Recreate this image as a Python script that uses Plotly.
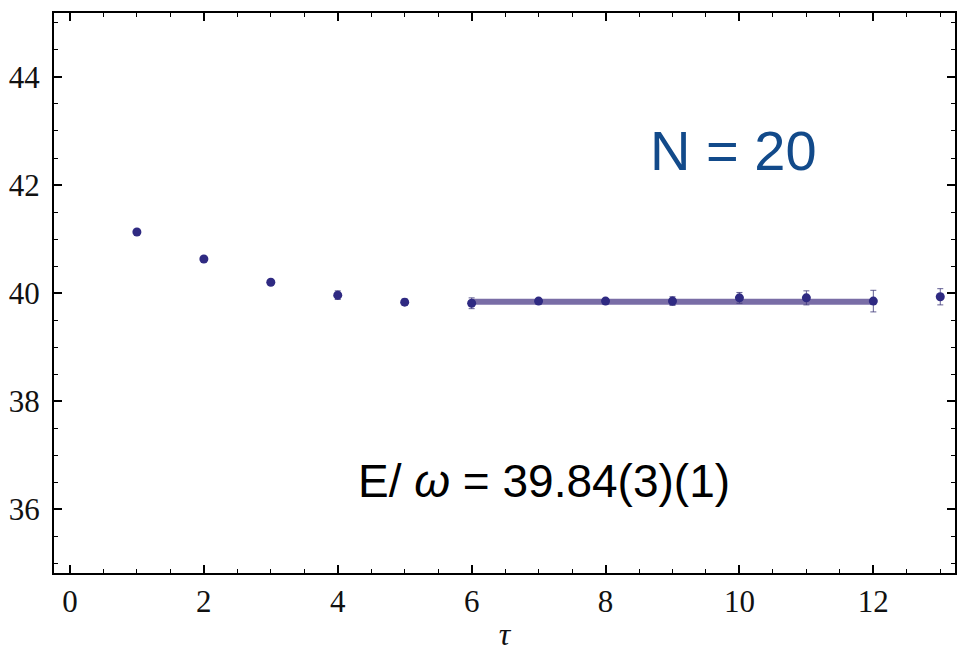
import plotly.graph_objects as go

# Euclidean-time data: effective energy vs tau
tau = [1, 2, 3, 4, 5, 6, 7, 8, 9, 10, 11, 12, 13]
energy = [41.13, 40.63, 40.20, 39.96, 39.83, 39.81, 39.85, 39.85, 39.85, 39.91, 39.91, 39.85, 39.93]
energy_err = [0.02, 0.03, 0.04, 0.08, 0.06, 0.10, 0.05, 0.05, 0.08, 0.10, 0.13, 0.20, 0.15]

# Plateau fit
fit_range = [6, 12]
fit_value = 39.84

point_color = "#2f2a82"
band_color = "rgba(98, 84, 150, 0.85)"

fig = go.Figure()

fig.add_trace(go.Scatter(
    x=fit_range, y=[fit_value, fit_value],
    mode="lines",
    line=dict(color=band_color, width=6),
    hoverinfo="skip", showlegend=False,
))

fig.add_trace(go.Scatter(
    x=tau, y=energy,
    mode="markers",
    marker=dict(color=point_color, size=9),
    error_y=dict(type="data", array=energy_err, visible=True,
                 color="rgba(60,55,120,0.8)", thickness=1, width=3),
    showlegend=False,
))

tick_font = dict(family="Liberation Serif", size=31, color="#111")
axis_common = dict(
    showline=True, linecolor="black", linewidth=2, mirror="ticks",
    ticks="inside", ticklen=8, tickwidth=1.5, tickcolor="black",
    showgrid=False, zeroline=False, tickfont=tick_font,
)

fig.update_xaxes(
    range=[-0.2385, 13.22], tickvals=[0, 2, 4, 6, 8, 10, 12],
    minor=dict(dtick=0.5, tick0=0, ticks="inside", ticklen=4, tickcolor="black", tickwidth=1),
    title=dict(text="<i>τ</i>", font=dict(family="Liberation Serif", size=32, color="#111"), standoff=4),
    **axis_common,
)
fig.update_yaxes(
    range=[34.815, 45.185], tickvals=[36, 38, 40, 42, 44],
    minor=dict(dtick=0.5, tick0=0, ticks="inside", ticklen=4, tickcolor="black", tickwidth=1),
    ticklabelstandoff=6,
    **axis_common,
)

# text labels, positioned in pixels inside the figure
def px_to_paper(xp, yp):
    return (xp - 54) / 903, 1 - (yp - 13) / 560

nx, ny = px_to_paper(735, 150)
fig.add_annotation(
    x=nx, y=ny, xref="paper", yref="paper", xanchor="center", yanchor="middle",
    text="N = 20", showarrow=False,
    font=dict(family="Liberation Sans", size=56, color="#124a8a"),
)
ex, ey = px_to_paper(545, 481)
fig.add_annotation(
    x=ex, y=ey, xref="paper", yref="paper", xanchor="center", yanchor="middle",
    text="E/ <i>ω</i> = 39.84(3)(1)", showarrow=False,
    font=dict(family="Liberation Sans", size=46, color="black"),
)

fig.update_layout(
    width=959, height=653,
    margin=dict(l=54, r=2, t=13, b=80),
    plot_bgcolor="white", paper_bgcolor="white",
)

fig.write_html("out.html")
